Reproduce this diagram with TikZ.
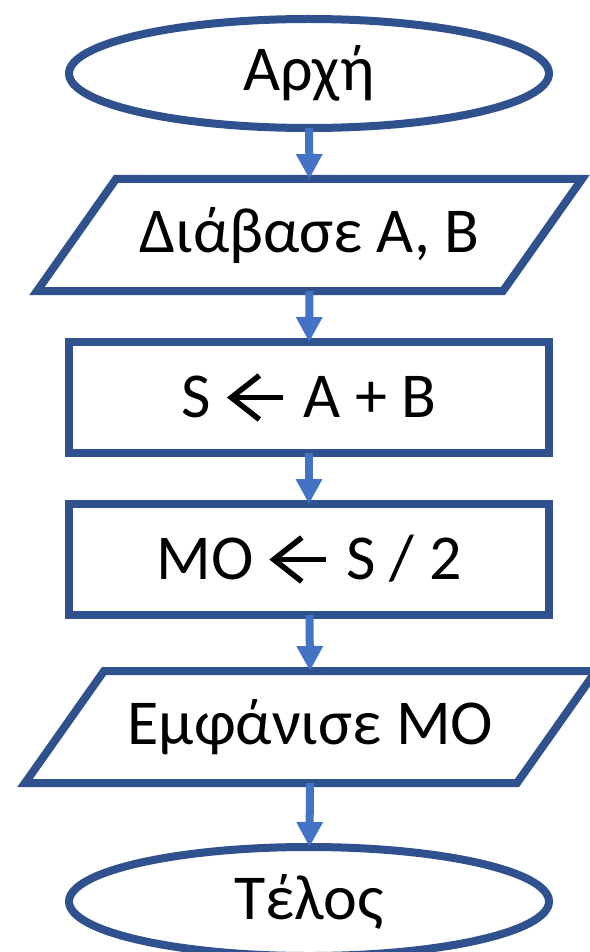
\documentclass[tikz,border=0pt]{standalone}
\usepackage{fontspec}
\setmainfont{Carlito}
\usetikzlibrary{arrows.meta,positioning,shapes.geometric}
\definecolor{shapeblue}{HTML}{2F528F}
\definecolor{arrowblue}{HTML}{4472C4}
\tikzset{
  outline/.style={draw=shapeblue, line width=8pt, line join=miter},
  base/.style={outline, outer sep=0pt, inner sep=0pt, align=center, font=\fontsize{64}{72}\selectfont},
  terminal/.style={base, ellipse, minimum width=480pt, minimum height=109pt},
  io/.style={base, draw=none, rectangle, minimum height=112pt},
  proc/.style={base, rectangle, minimum width=480pt, minimum height=111pt},
  arrow/.style={draw=arrowblue, line width=8pt, -{Triangle[length=25pt,width=25pt]}},
}
% assignment arrow
\newcommand{\assign}{\hspace{3pt}\tikz[baseline=-20pt]{\draw[line width=5.5pt] (28pt,22pt) -- (0,0) -- (28pt,-22pt); \draw[line width=5.5pt] (0,0) -- (52pt,0);}\hspace{3pt}}

\begin{document}
\begin{tikzpicture}
  \useasboundingbox (0,0) rectangle (589pt,-952pt);
  \node[terminal] (start) at (309pt,-73.5pt) {Αρχή};
  \node[io, minimum width=466pt, below=51pt of start, xshift=0.5pt] (read) {Διάβασε Α, Β};
  \node[proc, below=51pt of read, xshift=-0.5pt] (sum) {S \assign{} A + B};
  \node[proc, below=51pt of sum] (avg) {ΜΟ \assign{} S / 2};
  \node[io, minimum width=492pt, below=56pt of avg, xshift=1.5pt] (show) {Εμφάνισε ΜΟ};
  \node[terminal, below=64pt of show, xshift=-1.5pt] (stop) {Τέλος};

  % parallelograms round the io nodes
  \draw[outline] ([xshift=39.5pt]read.north west) -- ([xshift=39.5pt]read.north east)
    -- ([xshift=-39.5pt]read.south east) -- ([xshift=-39.5pt]read.south west) -- cycle;
  \draw[outline] ([xshift=39.5pt]show.north west) -- ([xshift=39.5pt]show.north east)
    -- ([xshift=-39.5pt]show.south east) -- ([xshift=-39.5pt]show.south west) -- cycle;

  \draw[arrow] (start) -- (read);
  \draw[arrow] (read) -- (sum);
  \draw[arrow] (sum) -- (avg);
  \draw[arrow] (avg) -- (show);
  \draw[arrow] (show) -- (stop);
\end{tikzpicture}
\end{document}
